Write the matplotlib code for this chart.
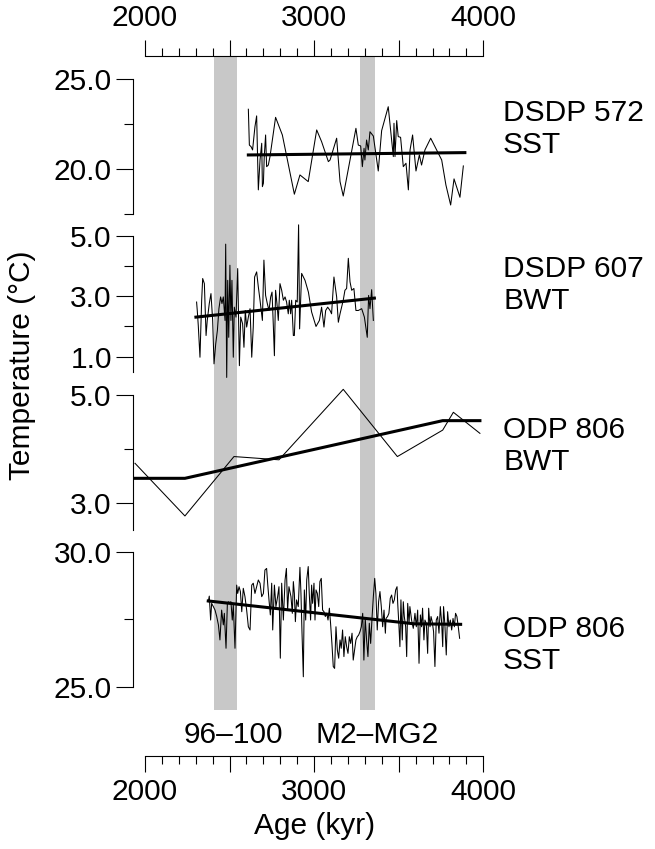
import numpy as np
import matplotlib
matplotlib.use("Agg")
import matplotlib.pyplot as plt
from matplotlib.ticker import FixedLocator, FormatStrFormatter
from matplotlib.transforms import blended_transform_factory

plt.rcParams['font.family'] = ['Liberation Sans', 'DejaVu Sans']
plt.rcParams['font.size'] = 21.5

# ---- data (age in kyr, temperature in degC) ----
# DSDP 572 SST
age_572 = [2611, 2617, 2627, 2636, 2650, 2660, 2670, 2680, 2690, 2694, 2700, 2705, 2713, 2719,
           2729, 2739, 2772, 2812, 2883, 2916, 2965, 3015, 3044, 3084, 3094, 3133, 3153, 3172,
           3212, 3247, 3261, 3275, 3285, 3295, 3300, 3310, 3320, 3330, 3350, 3379, 3399, 3438,
           3468, 3472, 3478, 3488, 3497, 3511, 3527, 3543, 3557, 3567, 3582, 3602, 3622, 3635,
           3655, 3689, 3724, 3754, 3779, 3807, 3827, 3862, 3882]
sst_572 = [23.32, 21.33, 21.24, 21.06, 22.35, 22.95, 18.84, 20.5, 21.43, 19.02, 19.21, 20.69, 21.89, 20.13,
           20.22, 20.69, 22.87, 21.89, 18.6, 19.67, 19.3, 22.17, 21.52, 20.41, 20.5, 21.71, 19.3, 18.5,
           20.5, 22.26, 21.33, 21.28, 20.13, 21.15, 20.5, 21.61, 21.06, 22.07, 21.83, 19.89, 22.13, 23.46,
           20.69, 22.54, 20.69, 22.69, 21.8, 21.76, 20.13, 20.32, 18.84, 21.06, 21.89, 19.89, 20.78, 20.22,
           21.06, 21.71, 21.06, 20.5, 19.11, 18.0, 19.45, 18.43, 20.17]
trend_age_572 = [2611, 3891]
trend_572 = [20.78, 20.91]

# DSDP 607 BWT
age_607 = [2305, 2309, 2315, 2325, 2335, 2341, 2351, 2361, 2368, 2380, 2390, 2400, 2408, 2418,
           2428, 2437, 2447, 2455, 2463, 2473, 2477, 2483, 2489, 2495, 2502, 2508, 2514, 2522,
           2528, 2538, 2548, 2558, 2566, 2577, 2585, 2593, 2601, 2611, 2621, 2631, 2640, 2648,
           2660, 2670, 2680, 2694, 2703, 2713, 2723, 2733, 2743, 2751, 2759, 2765, 2772, 2780,
           2788, 2798, 2808, 2818, 2828, 2837, 2847, 2853, 2861, 2867, 2877, 2883, 2891, 2900,
           2908, 2914, 2926, 2946, 2966, 2985, 3011, 3031, 3044, 3058, 3068, 3080, 3094, 3103,
           3117, 3133, 3143, 3153, 3172, 3182, 3192, 3202, 3212, 3222, 3235, 3247, 3261, 3281,
           3297, 3314, 3322, 3330, 3340, 3350]
bwt_607 = [2.81, 2.53, 2.03, 0.98, 2.87, 3.59, 3.42, 1.70, 2.2, 2.76, 3.09, 2.2, 0.76, 1.42,
           1.87, 2.59, 2.98, 2.76, 2.98, 2.2, 4.73, 0.31, 3.53, 1.64, 4.03, 2.2, 3.53, 0.98,
           2.64, 2.31, 3.92, 0.7, 2.31, 2.09, 1.31, 2.53, 1.98, 2.31, 2.59, 0.98, 1.98, 3.64,
           3.81, 3.31, 2.87, 2.2, 4.2, 3.03, 2.76, 2.53, 2.98, 3.14, 1.98, 1.03, 3.2, 2.76,
           2.2, 3.42, 3.2, 2.87, 2.98, 2.81, 2.42, 2.87, 2.42, 2.87, 1.7, 1.7, 2.87, 2.81,
           5.37, 1.92, 3.76, 3.53, 3.14, 2.48, 2.0, 2.2, 2.64, 1.98, 2.53, 2.64, 2.53, 2.42,
           3.64, 2.98, 2.14, 2.42, 2.87, 3.2, 3.26, 4.26, 3.48, 3.2, 3.26, 2.53, 2.53, 2.59,
           2.31, 1.64, 3.03, 2.59, 3.22, 2.2]
trend_age_607 = [2301, 3356]
trend_607 = [2.31, 2.94]

# ODP 806 BWT
age_806b = [1941, 2236, 2526, 2792, 3172, 3492, 3760, 3823, 3980]
bwt_806 = [3.735, 2.76, 3.86, 3.80, 5.105, 3.86, 4.35, 4.68, 4.29]
trend_age_806b = [1941, 2236, 3760, 3980]
trend_806b = [3.457, 3.457, 4.525, 4.525]

# ODP 806 SST
age_806s = [2374, 2380, 2388, 2394, 2404, 2414, 2424, 2434, 2443, 2453, 2463, 2469, 2479, 2487,
            2493, 2499, 2508, 2516, 2522, 2532, 2542, 2548, 2556, 2564, 2572, 2581, 2591, 2601,
            2611, 2621, 2631, 2640, 2650, 2660, 2670, 2680, 2690, 2700, 2709, 2719, 2725, 2733,
            2741, 2749, 2755, 2765, 2774, 2784, 2792, 2800, 2808, 2818, 2828, 2836, 2843, 2851,
            2863, 2871, 2877, 2883, 2889, 2896, 2906, 2916, 2922, 2928, 2936, 2942, 2950, 2956,
            2965, 2971, 2979, 2985, 2991, 2999, 3005, 3011, 3019, 3027, 3034, 3042, 3050, 3058,
            3066, 3074, 3082, 3090, 3097, 3105, 3113, 3121, 3129, 3137, 3145, 3153, 3160, 3168,
            3176, 3184, 3192, 3200, 3208, 3216, 3224, 3231, 3239, 3247, 3255, 3263, 3271, 3279,
            3287, 3294, 3302, 3310, 3318, 3326, 3334, 3342, 3350, 3358, 3365, 3373, 3381, 3389,
            3397, 3405, 3413, 3421, 3425, 3434, 3442, 3450, 3458, 3466, 3474, 3482, 3490, 3494,
            3501, 3507, 3513, 3521, 3527, 3533, 3541, 3547, 3553, 3561, 3566, 3576, 3586, 3596,
            3604, 3612, 3620, 3628, 3635, 3641, 3649, 3655, 3663, 3671, 3677, 3685, 3691, 3698,
            3706, 3714, 3722, 3730, 3738, 3746, 3754, 3760, 3765, 3773, 3781, 3789, 3797, 3805,
            3813, 3821, 3829, 3836, 3844, 3852, 3860]
sst_806 = [28.16, 28.37, 27.48, 28.10, 27.98, 27.85, 27.61, 27.30, 26.74, 27.85, 27.30, 27.73, 26.43, 28.10,
           28.16, 28.13, 28.16, 27.48, 28.04, 26.43, 28.78, 28.47, 28.72, 28.54, 27.79, 28.66, 28.35, 27.85,
           27.23, 27.11, 28.78, 28.85, 28.47, 28.72, 28.97, 28.85, 28.35, 28.47, 29.34, 29.40, 28.85, 28.23,
           27.67, 28.85, 27.11, 28.78, 27.98, 28.35, 28.72, 26.06, 28.85, 27.48, 28.97, 29.40, 27.85, 28.72,
           28.35, 27.73, 28.91, 28.47, 27.42, 28.23, 27.98, 29.44, 28.47, 27.05, 25.37, 28.60, 27.48, 28.97,
           29.47, 28.47, 27.48, 28.78, 28.10, 28.85, 27.48, 28.60, 28.47, 27.98, 28.91, 29.03, 27.85, 27.79,
           27.61, 27.73, 27.48, 27.92, 27.36, 26.61, 25.75, 25.68, 27.23, 26.37, 26.06, 26.74, 26.43, 27.11,
           26.12, 26.86, 26.49, 26.24, 26.86, 26.61, 26.99, 25.99, 26.37, 26.74, 26.86, 26.92, 27.05, 27.23,
           27.73, 25.99, 27.54, 26.74, 26.12, 27.36, 26.61, 27.54, 28.35, 29.03, 28.47, 27.11, 28.16, 28.54,
           27.98, 27.23, 27.85, 26.99, 27.54, 27.61, 27.73, 28.29, 28.41, 28.10, 28.23, 28.60, 28.72, 28.10,
           27.30, 26.49, 28.23, 26.74, 28.16, 27.61, 27.23, 26.12, 28.10, 27.36, 27.98, 27.48, 27.17, 27.73,
           27.23, 27.85, 25.87, 27.67, 27.23, 27.92, 26.74, 27.48, 27.36, 26.24, 27.92, 27.23, 27.61, 27.42,
           27.05, 25.75, 27.48, 27.61, 26.99, 27.98, 27.36, 26.49, 27.98, 27.30, 26.18, 27.79, 27.23, 27.48,
           27.11, 27.54, 27.23, 27.73, 27.61, 27.23, 26.80]
trend_age_806s = [2374, 3590, 3866]
trend_806s = [28.19, 27.34, 27.32]

bands = [(2405, 2545), (3270, 3360)]
band_names = ['96\u2013100', 'M2\u2013MG2']
band_label_age = [2520, 3371]

W, H = 655, 849
X0, X1 = 145, 483.3


def box(top, bottom):
    return [X0 / W, 1 - bottom / H, (X1 - X0) / W, (bottom - top) / H]


def age_axis(y_px, top):
    ax = fig.add_axes([X0 / W, 1 - y_px / H, (X1 - X0) / W, 0.0001])
    ax.patch.set_visible(False)
    keep = 'top' if top else 'bottom'
    for s in ['left', 'right', 'top', 'bottom']:
        if s != keep:
            ax.spines[s].set_visible(False)
    ax.spines[keep].set_linewidth(0.8)
    ax.set_xlim(2000, 4000)
    ax.set_yticks([])
    if top:
        ax.xaxis.tick_top()
    ax.set_xticks([2000, 2500, 3000, 3500, 4000])
    ax.set_xticklabels(['2000', '', '3000', '', '4000'])
    ax.set_xticks(np.arange(2000, 4001, 100), minor=True)
    ax.tick_params(axis='x', which='major', length=11.5, width=0.8, pad=5.5 if top else 4.5)
    ax.tick_params(axis='x', which='minor', length=5.8, width=0.8)
    return ax


fig = plt.figure(figsize=(W / 100, H / 100), dpi=100)

# grey glacial bands
axb = fig.add_axes(box(56, 710))
axb.set_xlim(2000, 4000)
axb.set_ylim(0, 1)
for a, b in bands:
    axb.axvspan(a, b, color='#c8c8c8', lw=0)
axb.axis('off')

panels = [
    (79, 214, (17.5, 25), [20, 25], [17.5, 22.5], age_572, sst_572, trend_age_572, trend_572, 'DSDP 572\nSST', 129),
    (236, 371.7, (0.5, 5), [1, 3, 5], [2, 4], age_607, bwt_607, trend_age_607, trend_607, 'DSDP 607\nBWT', 285),
    (395, 530, (2.5, 5), [3, 5], [4], age_806b, bwt_806, trend_age_806b, trend_806b, 'ODP 806\nBWT', 446),
    (552.3, 686.7, (25, 30), [25, 30], [27.5], age_806s, sst_806, trend_age_806s, trend_806s, 'ODP 806\nSST', 645),
]

for top, bot, ylim, major, minor, ag, tp, tag, ttp, name, ty in panels:
    ax = fig.add_axes(box(top, bot))
    ax.patch.set_visible(False)
    ax.set_xlim(2000, 4000)
    ax.set_ylim(*ylim)
    for s in ['top', 'right', 'bottom']:
        ax.spines[s].set_visible(False)
    ax.spines['left'].set_position(('outward', 8.4))
    ax.spines['left'].set_linewidth(0.8)
    ax.xaxis.set_visible(False)
    ax.yaxis.set_major_locator(FixedLocator(major))
    ax.yaxis.set_minor_locator(FixedLocator(minor))
    ax.yaxis.set_major_formatter(FormatStrFormatter('%.1f'))
    ax.tick_params(axis='y', which='major', length=12, width=0.8, pad=3.5)
    ax.tick_params(axis='y', which='minor', length=6.5, width=0.8)
    ax.plot(ag, tp, color='black', lw=0.75, clip_on=False)
    ax.plot(tag, ttp, color='black', lw=2.2, clip_on=False)
    fig.text(503 / W, 1 - ty / H, name, ha='left', va='center', linespacing=1.2)

age_axis(56, top=True)
axa = age_axis(756, top=False)
axa.set_xlabel('Age (kyr)', labelpad=4)

tr = blended_transform_factory(axa.transData, fig.transFigure)
for nm, xa in zip(band_names, band_label_age):
    axa.text(xa, 1 - 735 / H, nm, transform=tr, ha='center', va='center')

fig.text(22 / W, 1 - 365 / H, 'Temperature (\u00b0C)', rotation=90, ha='center', va='center')

fig.savefig('out.png', dpi=100)
